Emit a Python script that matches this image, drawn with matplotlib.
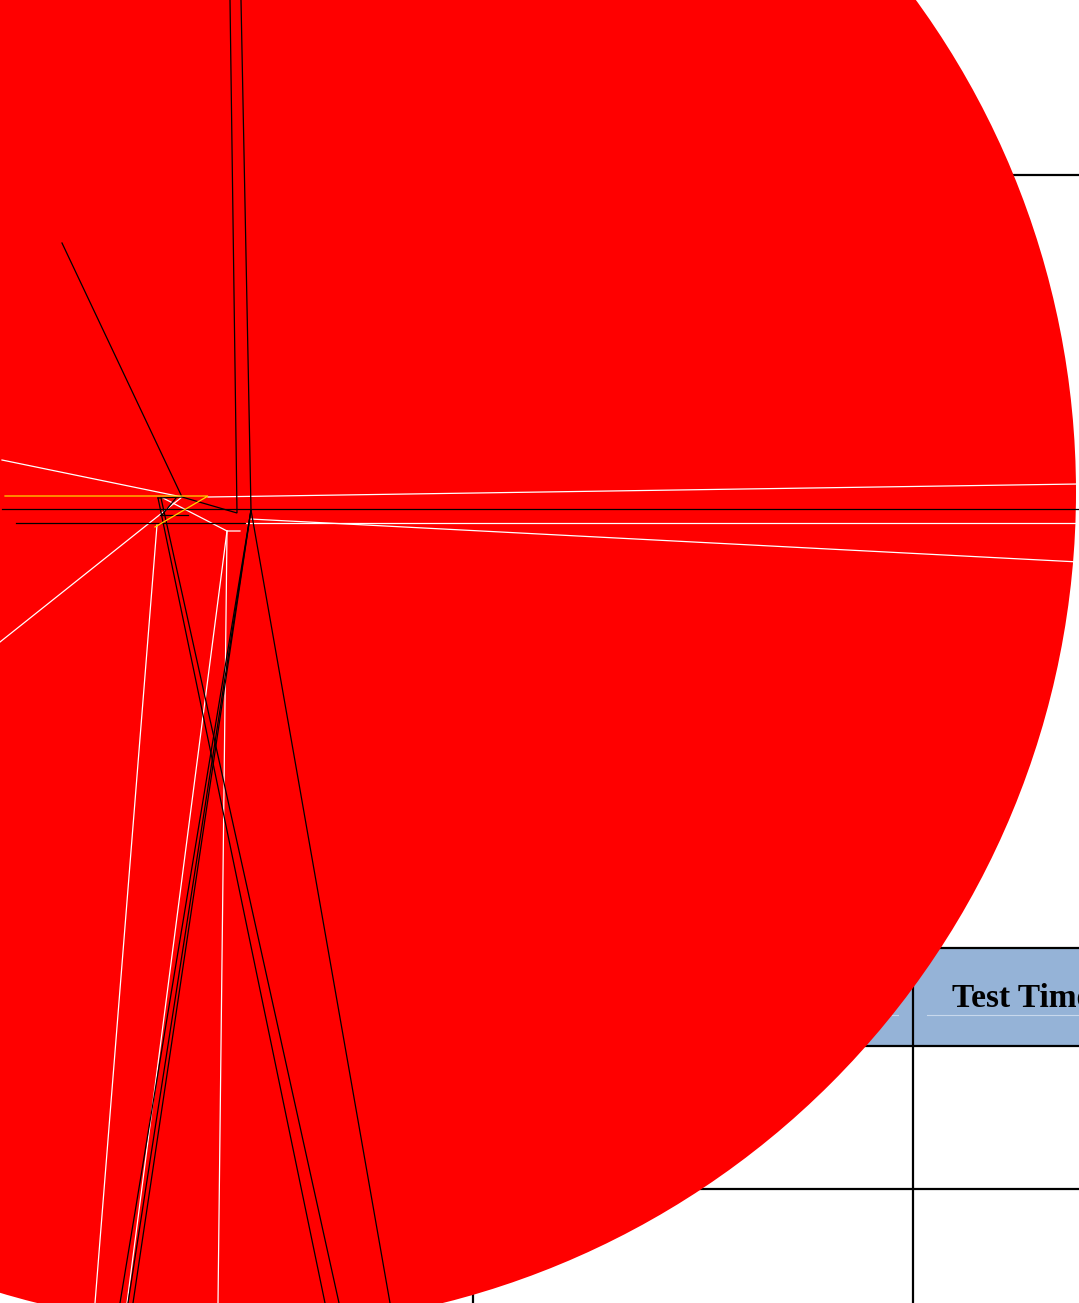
import matplotlib
matplotlib.use("Agg")
import matplotlib.pyplot as plt
from matplotlib.patches import Circle, Rectangle

W, H = 1079, 1303

# disc (pixel coords, y grows downward)
disc_center = (240, 492)
disc_radius = 836

# table grid behind the disc
table_hlines = [(175, 900, 1079), (948, 600, 1079), (1046, 600, 1079), (1189, 400, 1079)]
table_vlines = [(913, 948, 1303), (473, 1189, 1303), (75, 1250, 1303)]
header_box = (600, 948, 1079, 1046)
header_text = "Test Time"
header_rules = [(1015, 927, 1079), (1015, 700, 898)]

# stroke paths drawn over the disc
black_paths = [
    [(62, 243), (182, 497), (237, 513), (230, 0)],
    [(241, 0), (251, 510), (390, 1303)],
    [(251, 510), (120, 1303)],
    [(251, 510), (128, 1303)],
    [(251, 510), (133, 1303)],
    [(158, 498), (325, 1303)],
    [(161, 498), (339, 1303)],
    [(158, 498), (182, 497)],
    [(2, 509), (1079, 509)],
    [(16, 523), (245, 523)],
    [(160, 515), (188, 515)],
    [(176, 498), (162, 515)],
]
white_paths = [
    [(2, 460), (182, 497)],
    [(0, 642), (182, 497)],
    [(208, 497), (1079, 484)],
    [(245, 523), (1079, 523)],
    [(250, 519), (1079, 562)],
    [(163, 498), (227, 531), (240, 531)],
    [(227, 531), (218, 1303)],
    [(227, 531), (127, 1303)],
    [(157, 525), (95, 1303)],
]
yellow_paths = [
    [(5, 496), (208, 496), (155, 527)],
]

fig = plt.figure(figsize=(W / 100, H / 100), dpi=100)
ax = fig.add_axes([0, 0, 1, 1])
ax.set_xlim(0, W)
ax.set_ylim(H, 0)
ax.axis("off")

# table
x0, y0, x1, y1 = header_box
ax.add_patch(Rectangle((x0, y0), x1 - x0, y1 - y0, facecolor="#95b3d7",
                       edgecolor="none", zorder=1))
for y, xa, xb in header_rules:
    ax.plot([xa, xb], [y, y], color="#c8d8ec", lw=0.8, zorder=2)
for y, xa, xb in table_hlines:
    ax.plot([xa, xb], [y, y], color="black", lw=1.6, zorder=2)
for x, ya, yb in table_vlines:
    ax.plot([x, x], [ya, yb], color="black", lw=1.6, zorder=2)
ax.text(952, 1007, header_text, fontsize=24, fontweight="bold",
        family="Liberation Serif", va="baseline", ha="left", zorder=2)

# disc
ax.add_patch(Circle(disc_center, disc_radius, facecolor="#ff0000",
                    edgecolor="none", zorder=3))

for color, paths in [("white", white_paths), ("black", black_paths),
                     ("#ffd700", yellow_paths)]:
    for p in paths:
        xs = [pt[0] for pt in p]
        ys = [pt[1] for pt in p]
        ax.plot(xs, ys, color=color, lw=0.9, zorder=4, solid_joinstyle="miter")

fig.savefig("out.png", dpi=100)
